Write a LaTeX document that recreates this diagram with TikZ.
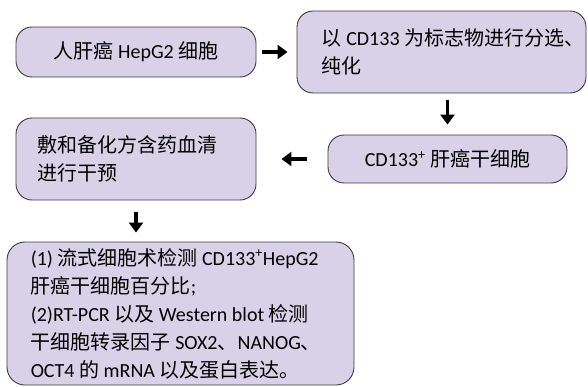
\documentclass[tikz,border=0pt]{standalone}
\usepackage{fontspec}
\setmainfont{Carlito}
\newfontfamily\cjkfont{Noto Sans CJK SC}
\newcommand\zhs[1]{{\cjkfont #1}}
\usetikzlibrary{arrows.meta}
\definecolor{boxfill}{RGB}{216,209,232}
\definecolor{boxline}{RGB}{60,60,60}
\tikzset{
  box/.style={draw=boxline, line width=0.9pt, fill=boxfill, rounded corners=16pt,
    inner sep=0pt, font=\fontsize{20}{28}\selectfont},
  txt/.style={align=left, inner sep=0pt, font=\fontsize{20}{28}\selectfont},
  arr/.style={line width=3.6pt, -{Triangle[length=10pt,width=14pt]}},
}
\begin{document}
\begin{tikzpicture}[x=1pt,y=1pt]
\useasboundingbox (0,0) rectangle (588,-387);

% boxes
\node[box, minimum width=240, minimum height=50] (b1) at (136,-52)
  {\zhs{人肝癌} HepG2 \zhs{细胞}};
\node[box, minimum width=289, minimum height=82] (b2) at (441.5,-52) {};
\node[txt, anchor=west] (t2) at ([xshift=25]b2.west)
  {\zhs{以} CD133 \zhs{为标志物进行分选、}\\\zhs{纯化}};
\node[box, minimum width=239, minimum height=48] (b3) at (447.5,-159)
  {CD133\textsuperscript{+} \zhs{肝癌干细胞}};
\node[box, minimum width=240, minimum height=82] (b4) at (136,-159) {};
\node[txt, anchor=west] (t4) at ([xshift=22]b4.west)
  {\zhs{敷和备化方含药血清}\\\zhs{进行干预}};
\node[box, minimum width=347, minimum height=143, rounded corners=18pt] (b5) at (180.5,-313.5) {};
\node[txt, anchor=west] (t5) at ([xshift=24]b5.west)
  {(1) \zhs{流式细胞术检测} CD133\textsuperscript{+}HepG2\\
   \zhs{肝癌干细胞百分比};\\
   (2)RT-PCR \zhs{以及} Western blot \zhs{检测}\\
   \zhs{干细胞转录因子} SOX2\zhs{、}NANOG\zhs{、}\\
   OCT4 \zhs{的} mRNA \zhs{以及蛋白表达。}};

% connectors
\draw[arr, shorten <=6pt, shorten >=9pt] (b1.east) -- (b2.west |- b1.east);
\draw[arr, shorten <=7pt, shorten >=10pt] (b2.south -| b3.north) -- (b3.north);
\draw[arr, shorten <=21pt, shorten >=25pt] (b3.west) -- (b4.east |- b3.west);
\draw[arr, shorten <=12pt, shorten >=9pt] (b4.south) -- (b4.south |- b5.north);
\end{tikzpicture}
\end{document}
